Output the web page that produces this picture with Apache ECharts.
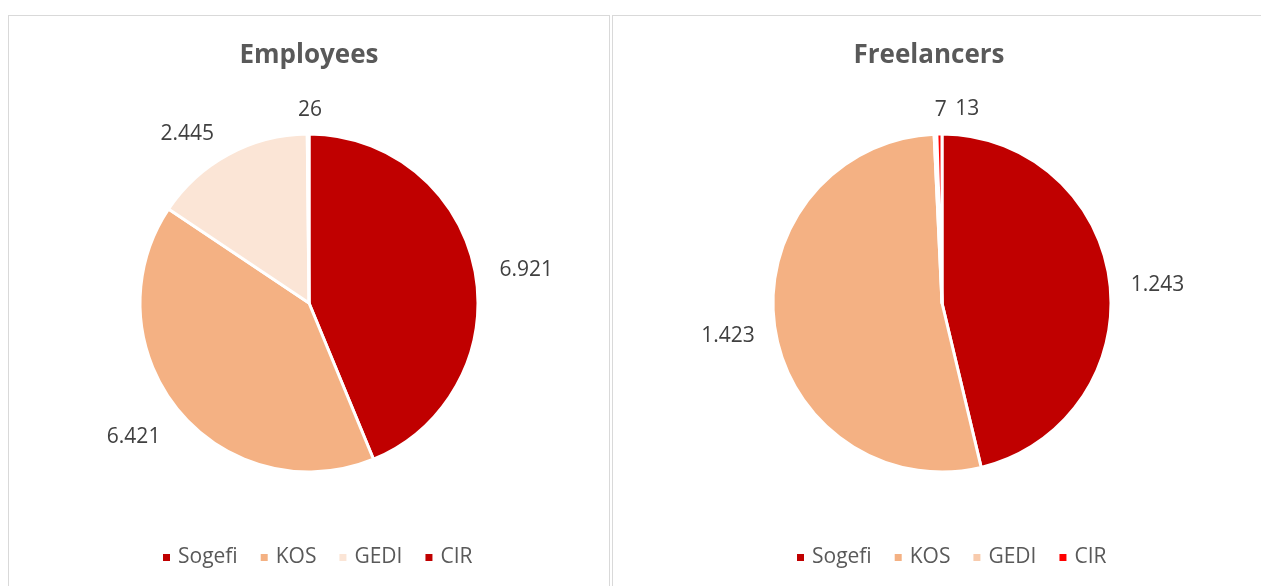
<!DOCTYPE html>
<html>
<head>
<meta charset="utf-8">
<script src="https://cdn.jsdelivr.net/npm/echarts@6/dist/echarts.min.js"></script>
<style>
  body { margin: 0; width: 1261px; height: 586px; overflow: hidden; background: #fff; }
  .panel { position: absolute; border: 1px solid #d9d9d9; box-sizing: border-box; }
  #p1 { left: 8px; top: 15px; width: 602px; height: 620px; }
  #p2 { left: 612px; top: 15px; width: 700px; height: 620px; }
  #emp { position: absolute; left: 0; top: 0; width: 618px; height: 586px; }
  #free { position: absolute; left: 611px; top: 0; width: 636px; height: 586px; }
</style>
</head>
<body>
<div class="panel" id="p1"></div>
<div class="panel" id="p2"></div>
<div id="emp"></div>
<div id="free"></div>
<script>
var categories = ['Sogefi', 'KOS', 'GEDI', 'CIR'];
var employees = [6921, 6421, 2445, 26];
var freelancers = [1243, 1423, 7, 13];
var empColors = ['#C00000', '#F4B183', '#FBE5D6', '#C00000'];
var freeColors = ['#C00000', '#F4B183', '#F8CBAD', '#FF0000'];

// little nudges so the labels sit where Excel's "best fit" put them
var empNudge = [[-1, 3], [4, 15], [2, -5], [22, -6]];
var freeNudge = [[-5, 4], [6, 7], [20, -6], [48, -7]];

function fmt(v) {
  return String(v).replace(/\B(?=(\d{3})+(?!\d))/g, '.');
}

function makePie(domId, title, values, colors, nudge, cx, legendLeft) {
  var chart = echarts.init(document.getElementById(domId));
  var data = categories.map(function (name, i) {
    return { name: name, value: values[i], itemStyle: { color: colors[i] } };
  });
  var option = {
    animation: false,
    title: {
      text: title,
      left: 'center',
      top: 38,
      textStyle: { fontFamily: 'Open Sans', fontSize: 26, fontWeight: 'bold', color: '#595959' }
    },
    legend: {
      data: categories,
      left: legendLeft,
      top: 547,
      padding: 0,
      itemWidth: 9,
      itemHeight: 9,
      itemGap: 21,
      icon: 'rect',
      textStyle: { fontFamily: 'Open Sans', fontSize: 21, color: '#595959', padding: [0, 0, 0, 2] }
    },
    series: [{
      type: 'pie',
      center: [cx, 303],
      radius: 169,
      startAngle: 90,
      clockwise: true,
      avoidLabelOverlap: false,
      emphasis: { disabled: true },
      itemStyle: { borderColor: '#fff', borderWidth: 3 },
      label: {
        show: true,
        position: 'outside',
        formatter: function (p) { return fmt(p.value); },
        fontFamily: 'Open Sans',
        fontSize: 21,
        color: '#404040',
        distanceToLabelLine: 4
      },
      labelLine: { show: false, length: 18, length2: 4 },
      labelLayout: function (p) {
        var n = nudge[p.dataIndex];
        return { dx: n[0], dy: n[1] };
      },
      data: data
    }]
  };
  chart.setOption(option);
  return chart;
}

makePie('emp', 'Employees', employees, empColors, empNudge, 309, 161);
makePie('free', 'Freelancers', freelancers, freeColors, freeNudge, 331, 184);
</script>
</body>
</html>
